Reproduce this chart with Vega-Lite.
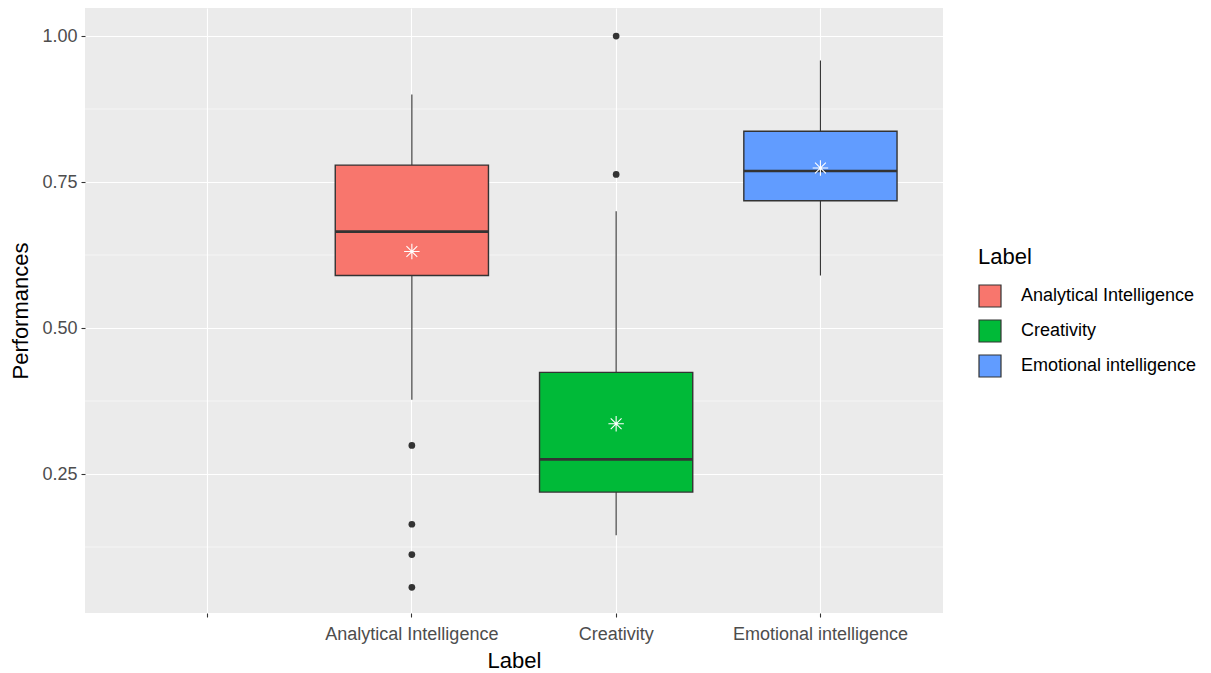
{
  "$schema": "https://vega.github.io/schema/vega-lite/v6.json",
  "autosize": {"type": "none"},
  "width": 858,
  "height": 605,
  "padding": {"left": 85, "top": 8, "right": 268, "bottom": 60},
  "background": "white",
  "view": {"fill": "#EBEBEB", "stroke": null},
  "config": {
    "font": "Liberation Sans",
    "axis": {
      "domain": false,
      "tickColor": "#333333",
      "tickSize": 4,
      "tickWidth": 1.1,
      "labelColor": "#4D4D4D",
      "labelFontSize": 18,
      "labelFont": "Liberation Sans",
      "titleFont": "Liberation Sans",
      "titleFontSize": 22,
      "titleFontWeight": "normal",
      "titleColor": "#000000",
      "gridColor": "#FFFFFF",
      "gridWidth": 1.1,
      "gridOpacity": 1
    },
    "legend": {
      "titleFont": "Liberation Sans",
      "labelFont": "Liberation Sans"
    }
  },
  "datasets": {
    "stats": [
      {"Label": "Analytical Intelligence", "lower": 0.377, "q1": 0.590, "median": 0.665, "q3": 0.779, "upper": 0.900, "mean": 0.631},
      {"Label": "Creativity", "lower": 0.145, "q1": 0.219, "median": 0.275, "q3": 0.424, "upper": 0.700, "mean": 0.336},
      {"Label": "Emotional intelligence", "lower": 0.590, "q1": 0.718, "median": 0.769, "q3": 0.837, "upper": 0.958, "mean": 0.774}
    ],
    "outliers": [
      {"Label": "Analytical Intelligence", "value": 0.299},
      {"Label": "Analytical Intelligence", "value": 0.164},
      {"Label": "Analytical Intelligence", "value": 0.112},
      {"Label": "Analytical Intelligence", "value": 0.056},
      {"Label": "Creativity", "value": 1.0},
      {"Label": "Creativity", "value": 0.763}
    ],
    "minor": [
      {"g": 0.125}, {"g": 0.375}, {"g": 0.625}, {"g": 0.875}
    ]
  },
  "layer": [
    {
      "data": {"name": "minor"},
      "mark": {"type": "rule", "color": "#FFFFFF", "strokeWidth": 0.55},
      "encoding": {
        "y": {"field": "g", "type": "quantitative"}
      }
    },
    {
      "data": {"name": "stats"},
      "mark": {"type": "rule", "color": "#333333", "strokeWidth": 1.1},
      "encoding": {
        "x": {"field": "Label", "type": "nominal"},
        "y": {"field": "lower", "type": "quantitative"},
        "y2": {"field": "upper"}
      }
    },
    {
      "data": {"name": "stats"},
      "mark": {"type": "bar", "stroke": "#333333", "strokeWidth": 1.4, "opacity": 1},
      "encoding": {
        "x": {"field": "Label", "type": "nominal"},
        "y": {"field": "q1", "type": "quantitative"},
        "y2": {"field": "q3"},
        "fill": {
          "field": "Label",
          "type": "nominal",
          "scale": {
            "domain": ["Analytical Intelligence", "Creativity", "Emotional intelligence"],
            "range": ["#F8766D", "#00BA38", "#619CFF"]
          },
          "legend": {
            "title": "Label",
            "orient": "none",
            "legendX": 893,
            "legendY": 239,
            "titleFontSize": 22,
            "titleFontWeight": "normal",
            "titleColor": "#000000",
            "titlePadding": 15,
            "labelFontSize": 18,
            "labelColor": "#000000",
            "labelLimit": 0,
            "symbolType": "square",
            "symbolSize": 484,
            "symbolStrokeColor": "#333333",
            "symbolStrokeWidth": 1.2,
            "symbolOpacity": 1,
            "rowPadding": 7,
            "labelOffset": 19
          }
        }
      }
    },
    {
      "data": {"name": "stats"},
      "mark": {"type": "bar", "fill": null, "fillOpacity": 0, "stroke": "#333333", "strokeWidth": 2.6},
      "encoding": {
        "x": {"field": "Label", "type": "nominal"},
        "y": {"field": "median", "type": "quantitative"},
        "y2": {"field": "median"}
      }
    },
    {
      "data": {"name": "outliers"},
      "mark": {"type": "point", "filled": true, "color": "#333333", "size": 45, "opacity": 1},
      "encoding": {
        "x": {"field": "Label", "type": "nominal"},
        "y": {"field": "value", "type": "quantitative"}
      }
    },
    {
      "data": {"name": "stats"},
      "mark": {
        "type": "point",
        "shape": "M-1,0L1,0M0,-1L0,1M-0.7,-0.7L0.7,0.7M-0.7,0.7L0.7,-0.7",
        "filled": false,
        "stroke": "#FFFFFF",
        "strokeWidth": 1.1,
        "size": 240,
        "opacity": 1
      },
      "encoding": {
        "x": {
          "field": "Label",
          "type": "nominal",
          "scale": {
            "type": "band",
            "domain": ["", "Analytical Intelligence", "Creativity", "Emotional intelligence"],
            "paddingInner": 0.25,
            "paddingOuter": 0.225
          },
          "axis": {
            "title": "Label",
            "labelAngle": 0,
            "labelAlign": "center",
            "labelBaseline": "top",
            "grid": true,
            "bandPosition": 0.5,
            "labelPadding": 8,
            "titlePadding": 7
          }
        },
        "y": {
          "field": "mean",
          "type": "quantitative",
          "scale": {"domain": [0.012, 1.048], "nice": false, "zero": false},
          "axis": {
            "title": "Performances",
            "values": [0.25, 0.5, 0.75, 1.0],
            "format": ".2f",
            "grid": true,
            "labelPadding": 4,
            "titlePadding": 9
          }
        }
      }
    }
  ]
}
